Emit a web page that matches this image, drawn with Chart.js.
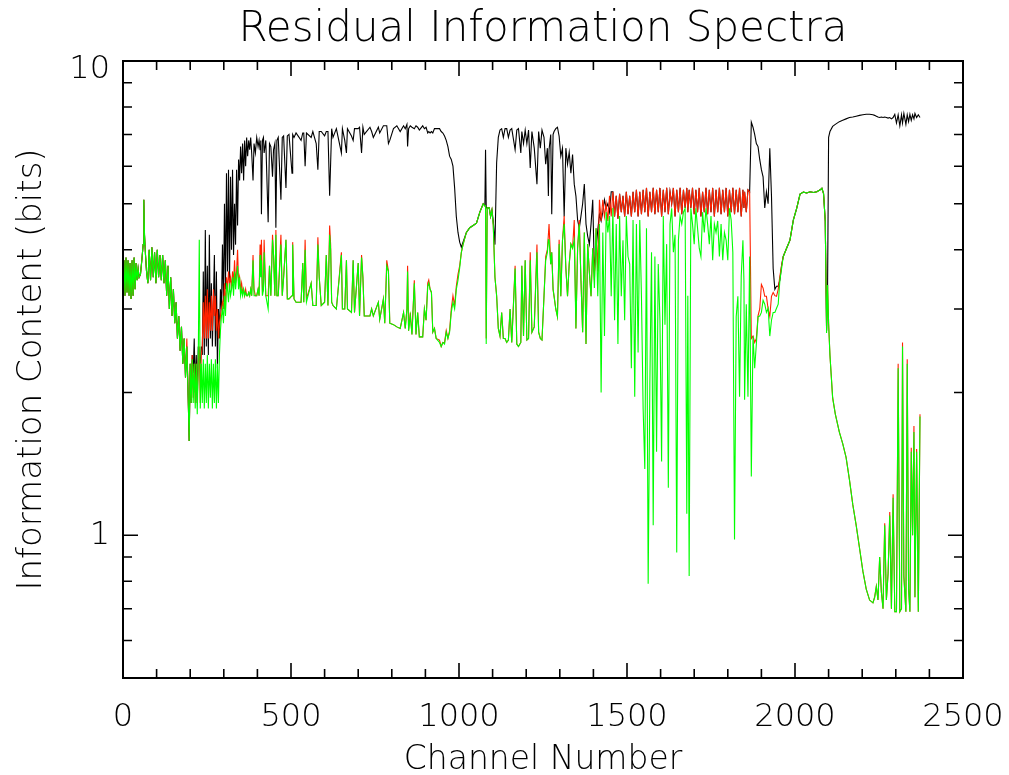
<!DOCTYPE html>
<html>
  <head>
    <title>Residual Information Spectra</title>
    <script src="https://cdn.jsdelivr.net/npm/chart.js"></script>
    <style>
      body { margin: 0; background: #ffffff; }
    </style>
  </head>

  <body>
    <canvas id="spectra" width="1009" height="775"></canvas>

    <script>
      // channel grid shared by the three curves
      const channel = [
        // 0-200
        0,3,6,9,12,15,18,21,24,27,30,33,36,39,42,45,48,52,56,60,62,64,67,70,74,78,82,86,90,94,98,102,106,110,114,118,122,126,130,134,138,142,146,150,154,158,162,166,170,174,178,182,186,190,194,197,200,
        // 203-290
        203,206,209,212,215,218,221,224,227,230,233,236,239,242,245,248,251,254,257,260,263,266,269,272,275,278,281,284,287,290,
        // 293-418
        293,296,299,302,305,308,311,314,317,320,323,326,329,332,335,338,341,344,347,350,353,356,359,362,365,368,371,374,377,380,383,387,390,394,398,402,405,408,410,412,415,418,
        // 420-845
        420,425,432,436,440,445,448,452,455,458,462,470,474,478,485,489,494,503,505,509,515,530,535,538,542,546,560,565,575,580,584,590,600,605,610,615,618,621,625,635,650,653,660,665,668,680,685,689,700,704,710,714,718,735,740,745,760,764,775,779,785,790,794,805,815,825,835,840,845,
        // 847-1247
        847,850,855,860,867,872,877,882,892,897,902,907,910,914,918,922,927,932,942,947,952,957,962,967,972,977,982,987,992,997,1002,1007,1012,1022,1032,1042,1052,1062,1072,1077,1079,1081,1084,1090,1094,1098,1102,1107,1112,1117,1122,1127,1132,1137,1142,1147,1152,1157,1167,1172,1177,1184,1187,1192,1197,1202,1207,1212,1217,1224,1232,1237,1242,1247,
        // 1253-1453
        1253,1258,1263,1266,1268,1273,1276,1280,1283,1288,1293,1298,1303,1308,1313,1318,1323,1328,1333,1338,1343,1348,1353,1358,1363,1368,1373,1378,1383,1388,1393,1398,1403,1408,1413,1418,1423,1428,1433,1438,1443,1448,1453,
        // 1458-1865
        1458,1463,1468,1473,1478,1483,1488,1493,1498,1503,1508,1513,1518,1523,1528,1533,1538,1543,1548,1553,1558,1563,1568,1573,1578,1583,1588,1593,1598,1603,1608,1613,1618,1623,1628,1633,1638,1643,1648,1653,1658,1663,1668,1673,1678,1681,1685,1690,1695,1700,1705,1710,1715,1720,1725,1730,1735,1740,1745,1750,1755,1760,1765,1770,1775,1780,1785,1790,1795,1800,1805,1810,1815,1820,1825,1830,1835,1840,1845,1848,1850,1855,1860,1865,
        // 1870-2080
        1870,1875,1880,1885,1890,1895,1900,1905,1910,1915,1920,1925,1930,1935,1940,1945,1950,1955,1960,1965,1975,1985,1995,2005,2015,2025,2035,2045,2055,2065,2075,2080,
        // 2085-2372
        2085,2090,2094,2097,2100,2104,2112,2120,2132,2142,2152,2162,2172,2182,2192,2202,2212,2222,2232,2237,2242,2247,2252,2257,2262,2267,2272,2277,2282,2287,2292,2297,2302,2307,2312,2317,2320,2324,2330,2334,2338,2342,2346,2350,2354,2357,2362,2367,2372
      ];

      // black curve
      const infoBlack = [
        3.3,3.8,3.2,3.85,3.25,3.8,3.2,3.75,3.15,3.8,3.2,3.85,3.3,3.75,3.45,3.65,3.5,3.55,3.8,4.1,5.1,4.3,3.9,3.6,3.4,4.0,3.45,4.05,3.5,3.95,3.4,4.0,3.5,3.9,3.45,3.9,3.4,3.8,3.2,3.7,3.0,3.5,2.9,3.3,2.8,3.1,2.6,2.9,2.45,2.75,2.3,2.6,2.15,2.5,1.95,1.58,2.3,
        1.9,2.4,2.2,2.6,2.0,2.4,1.9,2.5,2.4,2.3,2.5,2.4,3.6,2.4,4.4,2.5,3.7,2.4,4.3,2.6,3.4,2.5,3.1,3.9,2.5,3.6,2.25,3.0,2.6,3.3,
        3.0,4.1,3.1,5.0,3.3,5.8,3.6,5.9,3.4,5.7,4.0,5.9,3.9,5.0,4.1,5.9,4.5,6.2,5.6,6.6,5.8,6.7,5.6,6.8,6.0,6.9,6.3,6.8,6.5,6.9,6.4,5.6,6.7,6.4,6.9,6.6,6.8,6.5,6.8,4.75,6.8,6.9,
        6.4,6.8,4.57,6.7,6.6,5.7,6.5,6.7,4.45,6.8,6.9,5.1,6.9,6.95,5.4,6.95,7.0,5.8,7.0,6.9,7.05,6.8,7.05,7.05,6.0,7.05,6.9,7.1,6.7,5.9,7.1,7.1,6.95,7.1,7.1,5.2,6.1,7.2,6.9,7.2,6.4,7.2,6.8,6.4,7.2,6.95,6.8,7.2,7.2,7.25,6.4,7.25,7.0,7.25,7.1,6.9,7.25,7.05,7.3,7.3,7.3,6.7,6.8,7.2,7.3,7.1,7.3,7.2,7.35,
        6.6,7.2,7.3,7.25,7.2,7.3,7.25,7.15,7.3,7.2,7.25,7.05,7.1,7.05,7.1,7.05,7.2,7.2,7.2,7.1,7.05,6.95,6.8,6.6,6.3,6.2,6.0,5.4,4.7,4.35,4.15,4.05,4.15,4.35,4.45,4.5,4.55,4.8,5.0,4.95,6.5,4.9,4.9,4.9,4.7,4.85,4.6,4.1,6.1,6.9,7.15,7.2,6.9,7.2,7.2,6.9,7.15,7.2,6.5,7.15,7.2,6.4,7.1,6.7,7.15,6.7,7.15,5.95,7.1,6.55,5.5,7.1,6.55,7.15,
        6.9,6.06,6.55,5.19,6.5,7.0,4.75,7.0,7.1,7.2,7.25,6.94,6.3,6.55,4.7,6.55,6.06,6.42,5.8,6.35,5.5,5.19,4.62,4.44,4.71,5.0,5.5,4.53,4.27,4.11,4.53,5.1,3.58,4.03,4.4,4.75,4.6,4.8,5.1,4.9,5.0,4.8,5.3,
        5.3,4.7,5.2,4.65,5.25,4.8,5.2,4.7,5.3,4.75,5.2,4.7,5.3,4.8,5.35,4.7,5.3,4.75,5.35,4.8,5.4,4.7,5.3,4.8,5.4,4.75,5.35,4.8,5.4,4.7,5.35,4.8,5.4,4.75,5.3,5.0,5.4,4.7,5.35,4.8,5.4,4.75,5.35,4.9,5.4,4.8,5.35,4.9,5.4,4.75,5.35,4.8,5.4,4.7,5.3,4.8,5.4,4.75,5.35,4.8,5.4,4.7,5.35,4.8,5.4,4.75,5.35,4.8,5.4,4.7,5.35,4.8,5.4,4.75,5.35,4.8,5.4,4.7,5.35,4.9,5.3,4.8,5.35,5.3,
        7.43,7.25,7.0,6.7,6.6,6.2,5.9,5.7,4.9,5.3,5.0,6.55,5.2,3.65,3.3,3.35,3.35,3.45,3.7,3.87,4.03,4.19,4.62,4.89,5.24,5.29,5.27,5.3,5.28,5.3,5.35,5.39,
        5.25,4.6,2.7,3.37,6.9,7.1,7.28,7.35,7.45,7.5,7.55,7.6,7.62,7.65,7.68,7.7,7.72,7.72,7.7,7.68,7.65,7.62,7.6,7.62,7.6,7.62,7.6,7.58,7.6,7.55,7.6,7.72,7.4,7.7,7.3,7.7,7.4,7.75,7.35,7.7,7.45,7.72,7.5,7.7,7.55,7.75,7.6,7.7,7.6
      ];

      // red curve
      const infoRed = [
        3.3,3.8,3.2,3.85,3.25,3.8,3.2,3.75,3.15,3.8,3.2,3.85,3.3,3.75,3.45,3.65,3.5,3.55,3.8,4.1,5.1,4.3,3.9,3.6,3.4,4.0,3.45,4.05,3.5,3.95,3.4,4.0,3.5,3.9,3.45,3.9,3.4,3.8,3.2,3.7,3.0,3.5,2.9,3.3,2.8,3.1,2.6,2.9,2.45,2.75,2.3,2.6,2.15,2.6,1.95,1.58,2.3,
        1.9,2.4,1.95,2.3,1.9,2.3,1.9,2.35,2.5,1.9,2.4,2.5,3.1,2.6,3.2,2.6,3.3,2.6,3.1,2.7,3.2,2.7,3.3,2.9,3.2,2.7,3.0,2.6,2.8,2.9,
        3.0,3.1,3.0,3.4,3.0,3.5,3.3,3.6,3.4,3.5,3.3,3.6,3.4,3.8,3.4,3.6,4.0,3.4,3.5,3.3,3.4,3.25,3.3,3.2,3.3,3.2,3.2,3.25,3.2,3.3,3.2,3.9,3.3,3.2,3.2,3.3,3.2,4.1,3.6,4.2,3.25,3.3,
        4.2,3.2,3.2,3.7,3.2,4.3,3.9,3.2,4.4,3.2,3.2,4.3,3.2,3.5,4.2,3.15,3.15,3.2,4.15,3.15,3.1,3.1,3.75,3.1,4.2,3.15,3.4,3.05,3.05,4.25,3.5,3.05,3.1,3.9,3.05,4.5,4.1,3.1,3.05,3.0,3.95,3.0,3.0,3.8,3.0,2.95,3.8,2.95,3.75,2.9,3.9,3.5,2.9,2.9,3.0,2.9,3.1,2.85,3.15,2.8,3.8,3.6,2.8,2.78,2.75,2.73,2.95,2.73,3.0,
        3.7,2.7,2.95,2.65,3.45,2.65,2.95,2.62,2.62,3.0,2.84,3.4,3.45,3.3,3.25,2.68,2.73,2.6,2.58,2.5,2.55,2.55,2.7,2.6,2.7,3.0,3.2,3.05,3.35,3.55,3.7,3.95,4.1,4.35,4.45,4.5,4.55,4.8,5.0,4.95,4.95,2.6,4.9,4.9,4.7,4.85,4.5,3.5,3.2,2.73,2.63,2.95,2.6,2.6,2.55,2.58,3.0,2.55,3.7,2.53,2.5,2.55,3.7,2.63,3.8,2.58,2.6,3.95,2.68,2.75,4.1,2.68,2.6,2.58,
        3.2,3.87,4.0,4.3,4.53,3.73,3.95,3.3,3.19,3.0,2.89,4.2,3.19,4.19,4.71,3.66,3.19,3.73,4.11,4.03,4.62,2.73,4.03,4.62,3.45,2.68,4.35,2.53,4.11,3.58,3.19,4.03,3.45,4.44,3.6,5.1,4.6,5.1,4.7,5.0,4.6,5.2,4.7,
        5.3,4.7,5.2,4.65,5.25,4.8,5.2,4.7,5.3,4.75,5.2,4.7,5.3,4.8,5.35,4.7,5.3,4.75,5.35,4.8,5.4,4.7,5.3,4.8,5.4,4.75,5.35,4.8,5.4,4.7,5.35,4.8,5.4,4.75,5.3,5.0,5.4,4.7,5.35,4.8,5.4,4.75,5.35,4.9,5.4,4.8,5.35,4.9,5.4,4.75,5.35,4.8,5.4,4.7,5.3,4.8,5.4,4.75,5.35,4.8,5.4,4.7,5.35,4.8,5.4,4.75,5.35,4.8,5.4,4.7,5.35,4.8,5.4,4.75,5.35,4.8,5.4,4.7,5.35,4.9,5.3,4.8,5.35,5.3,
        2.6,2.63,2.55,2.6,2.9,3.0,3.38,3.32,3.19,3.19,3.0,2.89,3.19,3.25,3.2,3.19,3.3,3.52,3.7,3.87,4.03,4.19,4.62,4.89,5.24,5.29,5.27,5.3,5.28,5.3,5.35,5.39,
        5.25,4.6,2.7,3.37,2.8,2.4,1.95,1.8,1.65,1.56,1.46,1.31,1.16,1.05,0.94,0.84,0.77,0.73,0.72,0.74,0.78,0.73,0.9,0.76,0.7,1.06,0.73,0.83,1.12,0.7,1.22,0.69,0.69,2.3,0.69,0.7,2.55,0.82,0.69,2.35,0.77,0.69,1.53,1.0,1.7,0.74,1.52,0.69,1.8
      ];

      // green curve
      const infoGreen = [
        3.3,3.8,3.2,3.85,3.25,3.8,3.2,3.75,3.15,3.8,3.2,3.85,3.3,3.75,3.45,3.65,3.5,3.55,3.8,4.1,5.1,4.3,3.9,3.6,3.4,4.0,3.45,4.05,3.5,3.95,3.4,4.0,3.5,3.9,3.45,3.9,3.4,3.8,3.2,3.7,3.0,3.5,2.9,3.3,2.8,3.1,2.6,2.9,2.45,2.75,2.3,2.6,2.15,2.5,1.95,1.58,2.3,
        1.9,2.35,1.9,2.3,1.85,2.3,1.8,2.35,4.2,1.85,2.3,1.9,2.35,1.85,2.3,1.9,2.4,1.85,2.3,1.95,2.35,1.85,2.3,1.9,2.35,1.85,2.3,1.9,2.4,2.7,
        2.9,3.0,2.8,3.2,2.9,3.4,3.3,3.1,3.4,3.2,3.3,3.5,3.2,3.6,3.3,3.5,3.7,3.3,3.5,3.2,3.3,3.2,3.3,3.2,3.25,3.2,3.2,3.25,3.2,3.3,3.2,3.8,3.2,3.2,3.2,3.3,3.2,3.9,3.5,3.8,3.2,3.3,
        3.95,3.2,3.0,3.7,3.2,4.2,3.9,3.2,4.3,3.2,3.2,4.1,3.2,3.5,4.2,3.15,3.15,3.2,4.1,3.15,3.1,3.1,3.75,3.1,4.0,3.1,3.4,3.05,3.05,4.1,3.5,3.05,3.1,3.9,3.05,4.3,4.0,3.1,3.05,3.0,3.9,3.0,3.0,3.8,3.0,2.95,3.8,2.95,3.75,2.9,3.85,3.5,2.9,2.9,3.0,2.9,3.1,2.85,3.15,2.8,3.7,3.6,2.8,2.78,2.75,2.73,2.95,2.73,3.0,
        3.6,2.7,2.9,2.65,3.4,2.65,2.95,2.62,2.62,3.0,2.84,3.35,3.4,3.3,3.25,2.68,2.73,2.6,2.55,2.5,2.55,2.53,2.68,2.6,2.68,2.95,3.1,3.0,3.3,3.45,3.66,3.95,4.1,4.35,4.45,4.5,4.55,4.8,5.0,4.95,4.95,2.53,4.9,4.9,4.7,4.85,4.5,3.5,3.2,2.73,2.63,2.95,2.6,2.6,2.55,2.58,3.0,2.55,3.65,2.53,2.5,2.55,3.7,2.63,3.8,2.58,2.6,3.8,2.68,2.75,3.95,2.68,2.6,2.58,
        3.19,3.8,3.95,4.2,4.19,3.73,3.95,3.3,3.19,3.0,2.89,4.11,3.19,4.19,4.53,3.66,3.19,3.73,4.11,4.03,4.19,2.73,4.03,4.53,3.45,2.68,4.35,2.53,4.11,3.58,3.19,4.03,3.32,4.44,3.19,4.53,2.0,4.35,2.63,4.8,4.35,4.71,3.19,
        4.9,2.84,4.53,2.53,4.71,3.19,4.19,2.84,4.71,3.87,3.73,2.25,4.62,1.96,4.53,2.43,4.62,3.19,1.85,1.38,4.44,0.79,2.08,3.95,1.05,3.87,1.5,3.73,2.84,1.43,4.71,2.78,4.11,1.26,4.53,4.89,3.95,4.3,0.92,4.19,4.71,4.53,4.8,4.89,1.11,3.2,0.82,4.89,4.53,4.11,4.89,4.44,4.03,3.87,4.8,4.35,4.89,4.53,4.11,4.71,3.8,4.53,4.35,4.6,3.87,4.53,3.8,4.35,4.19,3.8,4.89,4.62,3.95,0.98,2.89,3.19,1.96,3.52,4.19,3.45,1.93,3.07,1.96,3.87,
        1.33,2.63,2.25,2.53,2.89,2.9,2.95,3.13,3.07,2.95,3.01,2.63,2.84,2.95,2.95,3.01,3.07,3.45,3.65,3.87,4.03,4.19,4.62,4.89,5.24,5.29,5.27,5.3,5.28,5.3,5.35,5.39,
        5.25,4.6,2.67,3.37,2.8,2.4,1.95,1.8,1.65,1.56,1.46,1.31,1.16,1.05,0.94,0.84,0.77,0.73,0.72,0.74,0.78,0.73,0.9,0.76,0.7,1.05,0.73,0.83,1.1,0.7,1.2,0.69,0.69,2.25,0.69,0.7,2.5,0.82,0.69,2.3,0.77,0.69,1.5,1.0,1.65,0.74,1.5,0.69,1.78
      ];

      // axis ticks and labels
      const xTickLabels = [0, 500, 1000, 1500, 2000, 2500];
      const yTickValues = [0.5, 0.6, 0.7, 0.8, 0.9, 1, 2, 3, 4, 5, 6, 7, 8, 9, 10];
      const yTickLabels = [1, 10];

      if (channel.length != infoBlack.length || channel.length != infoRed.length || channel.length != infoGreen.length) {
        console.error("array lengths differ", channel.length, infoBlack.length, infoRed.length, infoGreen.length);
      }

      function toPoints(values) {
        return channel.map(function (c, i) {
          return { x: c, y: values[i] };
        });
      }

      // IDL style frame: box all round with ticks pointing inwards
      const frameTicks = {
        id: "frameTicks",
        afterDatasetsDraw(chart) {
          const ctx = chart.ctx;
          const area = chart.chartArea;
          const sx = chart.scales.x;
          const sy = chart.scales.y;
          ctx.save();
          ctx.strokeStyle = "#000";
          ctx.lineWidth = 1.6;
          ctx.beginPath();
          sx.ticks.forEach(function (t) {
            const px = sx.getPixelForValue(t.value);
            const len = xTickLabels.includes(t.value) ? 15 : 9;
            ctx.moveTo(px, area.bottom);
            ctx.lineTo(px, area.bottom - len);
            ctx.moveTo(px, area.top);
            ctx.lineTo(px, area.top + len);
          });
          sy.ticks.forEach(function (t) {
            const py = sy.getPixelForValue(t.value);
            const len = yTickLabels.includes(t.value) ? 15 : 9;
            ctx.moveTo(area.left, py);
            ctx.lineTo(area.left + len, py);
            ctx.moveTo(area.right, py);
            ctx.lineTo(area.right - len, py);
          });
          ctx.stroke();
          ctx.lineWidth = 2;
          ctx.strokeRect(area.left, area.top, area.right - area.left, area.bottom - area.top);
          ctx.restore();
        },
      };

      const fontFamily = "'DejaVu Sans', sans-serif";

      function plotChart() {
        const data = {
          datasets: [
            { label: "black", data: toPoints(infoBlack), borderColor: "#000000", order: 3 },
            { label: "red", data: toPoints(infoRed), borderColor: "#ff2200", order: 2 },
            { label: "green", data: toPoints(infoGreen), borderColor: "#00ff00", order: 1 },
          ],
        };

        const config = {
          type: "line",
          data: data,
          plugins: [frameTicks],
          options: {
            responsive: false,
            animation: false,
            layout: { padding: { left: 0, right: 46, top: 0, bottom: 0 } },
            elements: {
              line: { borderWidth: 1.1, tension: 0, fill: false },
              point: { radius: 0 },
            },
            plugins: {
              legend: { display: false },
              tooltip: { enabled: false },
              title: {
                display: true,
                fullSize: false,
                text: "Residual Information Spectra",
                color: "#000",
                font: { family: fontFamily, size: 42, weight: "200", lineHeight: 1.2 },
                padding: { top: 5, bottom: 5.6 },
              },
            },
            scales: {
              x: {
                type: "linear",
                min: 0,
                max: 2500,
                afterFit(scale) {
                  scale.height = 97;
                  scale.paddingLeft = 0;
                  scale.paddingRight = 0;
                },
                grid: { display: false, drawTicks: false },
                border: { display: false },
                ticks: {
                  stepSize: 100,
                  autoSkip: false,
                  maxRotation: 0,
                  padding: 20,
                  color: "#000",
                  font: { family: fontFamily, size: 32, weight: "200" },
                  callback: function (v) { return xTickLabels.includes(v) ? String(v) : ""; },
                },
                title: {
                  display: true,
                  text: "Channel Number",
                  color: "#000",
                  font: { family: fontFamily, size: 33, weight: "200", lineHeight: 0.9 },
                  padding: { top: 0, bottom: 0 },
                },
              },
              y: {
                type: "logarithmic",
                min: 0.5,
                max: 10,
                afterFit(scale) {
                  scale.width = 123;
                  scale.paddingTop = 0;
                  scale.paddingBottom = 0;
                },
                afterBuildTicks(scale) {
                  scale.ticks = yTickValues.map(function (v) { return { value: v }; });
                },
                grid: { display: false, drawTicks: false },
                border: { display: false },
                ticks: {
                  autoSkip: false,
                  padding: 13,
                  color: "#000",
                  font: { family: fontFamily, size: 32, weight: "200", lineHeight: 0.55 },
                  // the top label sits a little below its tick in the original
                  callback: function (v) {
                    if (v === 10) return ["", "10"];
                    return yTickLabels.includes(v) ? String(v) : "";
                  },
                },
                title: {
                  display: true,
                  text: "Information Content (bits)",
                  color: "#000",
                  font: { family: fontFamily, size: 34, weight: "200" },
                  padding: { top: 12, bottom: 0 },
                },
              },
            },
          },
        };

        new Chart(document.getElementById("spectra"), config);
      }

      plotChart();
    </script>
  </body>
</html>
